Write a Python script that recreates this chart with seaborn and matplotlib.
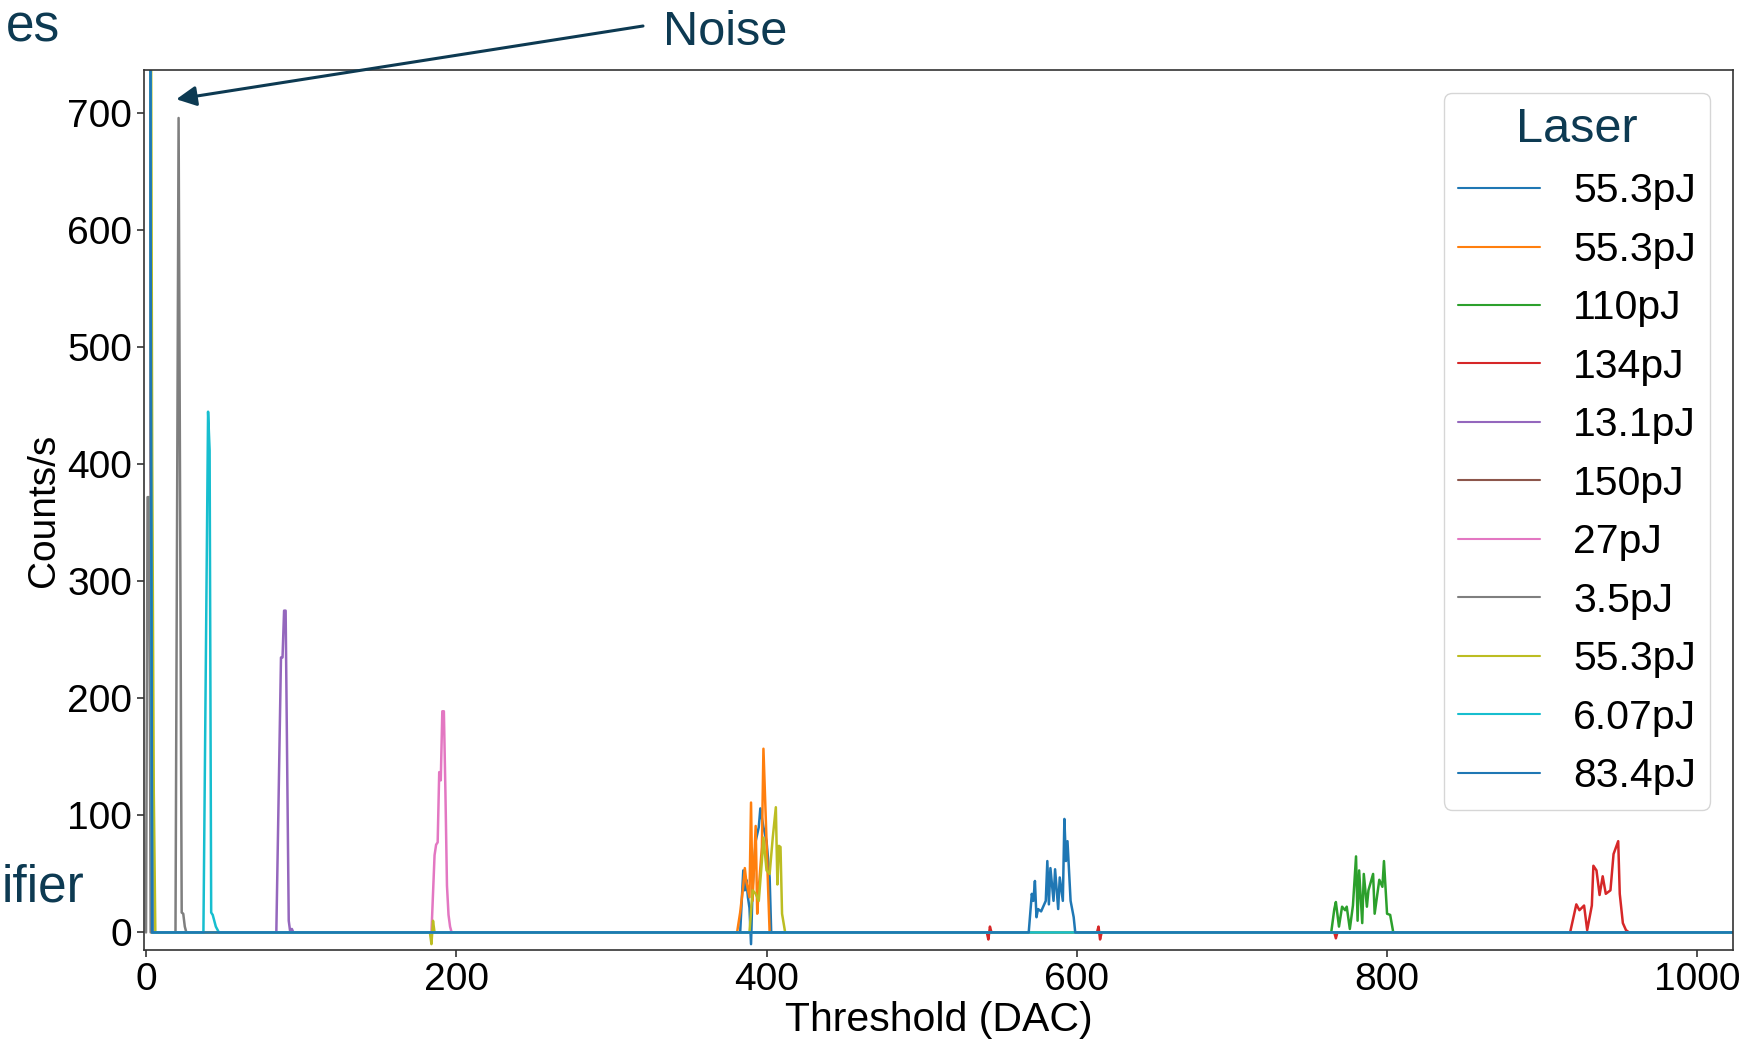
# Threshold scan plot - counts vs threshold for several laser energies
import matplotlib
matplotlib.use("Agg")
import matplotlib.pyplot as plt
import seaborn as sns

# Series labels (legend order)
labels = ['55.3pJ', '55.3pJ', '110pJ', '134pJ', '13.1pJ', '150pJ',
          '27pJ', '3.5pJ', '55.3pJ', '6.07pJ', '83.4pJ']

# Threshold (DAC) points and counts/s, one pair per series
x_553a = [0, 1, 2, 3, 4, 383, 385, 386, 387, 388, 389, 390, 391, 393, 395, 396, 398, 400, 402, 403, 1023]
y_553a = [3000, 3000, 3000, 600, 0, 0, 53, 36, 45, 30, 21, -10, 38, 78, 90, 106, 90, 78, 47, 0, 0]

x_553b = [0, 1, 2, 3, 4, 381, 383, 385, 386, 387, 389, 390, 391, 393, 394, 395, 397, 398, 400, 401, 402, 1023]
y_553b = [3000, 3000, 3000, 500, 0, 0, 17, 40, 55, 43, 30, 111, 27, 91, 16, 38, 73, 157, 78, 38, 0, 0]

x_110 = [0, 1, 2, 3, 4, 764, 766, 767, 769, 771, 773, 774, 776, 778, 780, 781, 782, 784, 785, 787, 788,
         791, 792, 795, 797, 798, 800, 802, 804, 1023]
y_110 = [3000, 3000, 3000, 500, 0, 0, 20, 26, 5, 22, 19, 22, 3, 23, 65, 10, 53, 8, 50, 22, 36,
         50, 16, 45, 39, 61, 16, 15, 0, 0]

x_134 = [0, 1, 2, 3, 4, 542, 543, 544, 545, 613, 614, 615, 616, 766, 767, 768, 918, 922, 924, 927, 929,
         932, 933, 935, 937, 939, 941, 944, 946, 949, 950, 952, 954, 956, 1023]
y_134 = [3000, 3000, 3000, 500, 0, 0, -6, 5, 0, 0, 5, -6, 0, 0, -5, 0, 0, 24, 19, 23, 2,
         23, 57, 53, 32, 48, 33, 36, 67, 78, 33, 8, 2, 0, 0]

x_131 = [0, 1, 2, 3, 4, 84, 87, 88, 89, 90, 92, 93, 94, 95, 1023]
y_131 = [3000, 3000, 3000, 500, 0, 0, 235, 235, 275, 275, 10, 0, 3, 0, 0]

x_150 = [0, 1, 2, 3, 4, 1023]
y_150 = [3000, 3000, 3000, 500, 0, 0]

x_27 = [0, 1, 2, 3, 4, 184, 186, 187, 188, 189, 190, 191, 192, 193, 194, 195, 196, 197, 1023]
y_27 = [3000, 3000, 3000, 500, 0, 0, 66, 75, 77, 137, 130, 189, 189, 120, 40, 15, 5, 0, 0]

x_35 = [0, 1, 2, 3, 19, 21, 23, 24, 25, 26, 1023]
y_35 = [0, 372, 372, 0, 0, 696, 17, 16, 5, 0, 0]

x_553c = [0, 1, 2, 3, 4, 5, 6, 183, 184, 185, 186, 389, 391, 393, 395, 397, 398, 400, 402, 404, 406,
          407, 408, 409, 410, 412, 1023]
y_553c = [3000, 3000, 3000, 900, 400, 120, 0, 0, -10, 10, 0, 0, 36, 33, 27, 61, 81, 53, 50, 81, 107,
          41, 74, 73, 16, 0, 0]

x_607 = [0, 1, 2, 3, 4, 37, 40, 41, 42, 43, 45, 47, 1023]
y_607 = [3000, 3000, 3000, 500, 0, 0, 445, 412, 17, 15, 5, 0, 0]

x_834 = [0, 1, 2, 3, 4, 569, 571, 572, 573, 574, 575, 577, 580, 581, 582, 583, 585, 586, 588, 589, 591,
         592, 593, 594, 596, 598, 599, 1023]
y_834 = [3000, 3000, 3000, 600, 0, 0, 33, 27, 44, 13, 20, 18, 27, 61, 24, 55, 27, 54, 20, 47, 27,
         97, 61, 78, 27, 13, 0, 0]

xs = [x_553a, x_553b, x_110, x_134, x_131, x_150, x_27, x_35, x_553c, x_607, x_834]
ys = [y_553a, y_553b, y_110, y_134, y_131, y_150, y_27, y_35, y_553c, y_607, y_834]

sns.set_style("ticks")
plt.rcParams['font.family'] = ['Liberation Sans', 'DejaVu Sans']
plt.rcParams.update({'text.color': 'black', 'axes.labelcolor': 'black',
                     'xtick.color': 'black', 'ytick.color': 'black'})
teal = '#0d3a52'

fig = plt.figure(figsize=(17.61, 10.45), dpi=100)
ax = fig.add_axes([144 / 1761, 95 / 1045, (1733 - 144) / 1761, (950 - 70) / 1045])

colors = sns.color_palette('tab10', 10)
for i, (lab, x, y) in enumerate(zip(labels, xs, ys)):
    sns.lineplot(x=x, y=y, color=colors[i % 10], label=lab, linewidth=1.8,
                 estimator=None, sort=False, ax=ax)

ax.set_xlim(-1.3, 1023)
ax.set_ylim(-15, 737)
ax.set_xticks([0, 200, 400, 600, 800, 1000])
ax.set_yticks([0, 100, 200, 300, 400, 500, 600, 700])
ax.tick_params(labelsize=28, width=1.2, length=5, color='#333333')
for sp in ax.spines.values():
    sp.set_color('#333333')
    sp.set_linewidth(1.2)
ax.set_xlabel('Threshold (DAC)', fontsize=29.5, labelpad=2)
ax.set_ylabel('Counts/s', fontsize=28, labelpad=4)

leg = ax.legend(title='Laser', fontsize=29.5, title_fontsize=35, loc='upper right',
                handlelength=2.0, handletextpad=0.8, labelspacing=0.5,
                borderaxespad=0.55, borderpad=0.35, frameon=True)
leg.get_title().set_color(teal)
for h in leg.get_lines():
    h.set_linewidth(1.5)

# Noise annotation: arrow from the label down to the low-threshold spike
ax.annotate('', xy=(19.5, 712), xycoords='data',
            xytext=(643, 1045 - 26), textcoords='figure pixels',
            arrowprops=dict(arrowstyle='-|>', color=teal, lw=2.2,
                            mutation_scale=30, shrinkA=0, shrinkB=0))
fig.text(663 / 1761, 1 - 45 / 1045, 'Noise', fontsize=35, color=teal,
         ha='left', va='baseline')

# Cropped slide text fragments at the left edge
fig.text(6 / 1761, 1 - 42 / 1045, 'es', fontsize=37, color=teal, ha='left', va='baseline')
fig.text(84 / 1761, 1 - 902 / 1045, 'ifier', fontsize=37, color=teal, ha='right', va='baseline')

fig.savefig('out.png', dpi=100)
